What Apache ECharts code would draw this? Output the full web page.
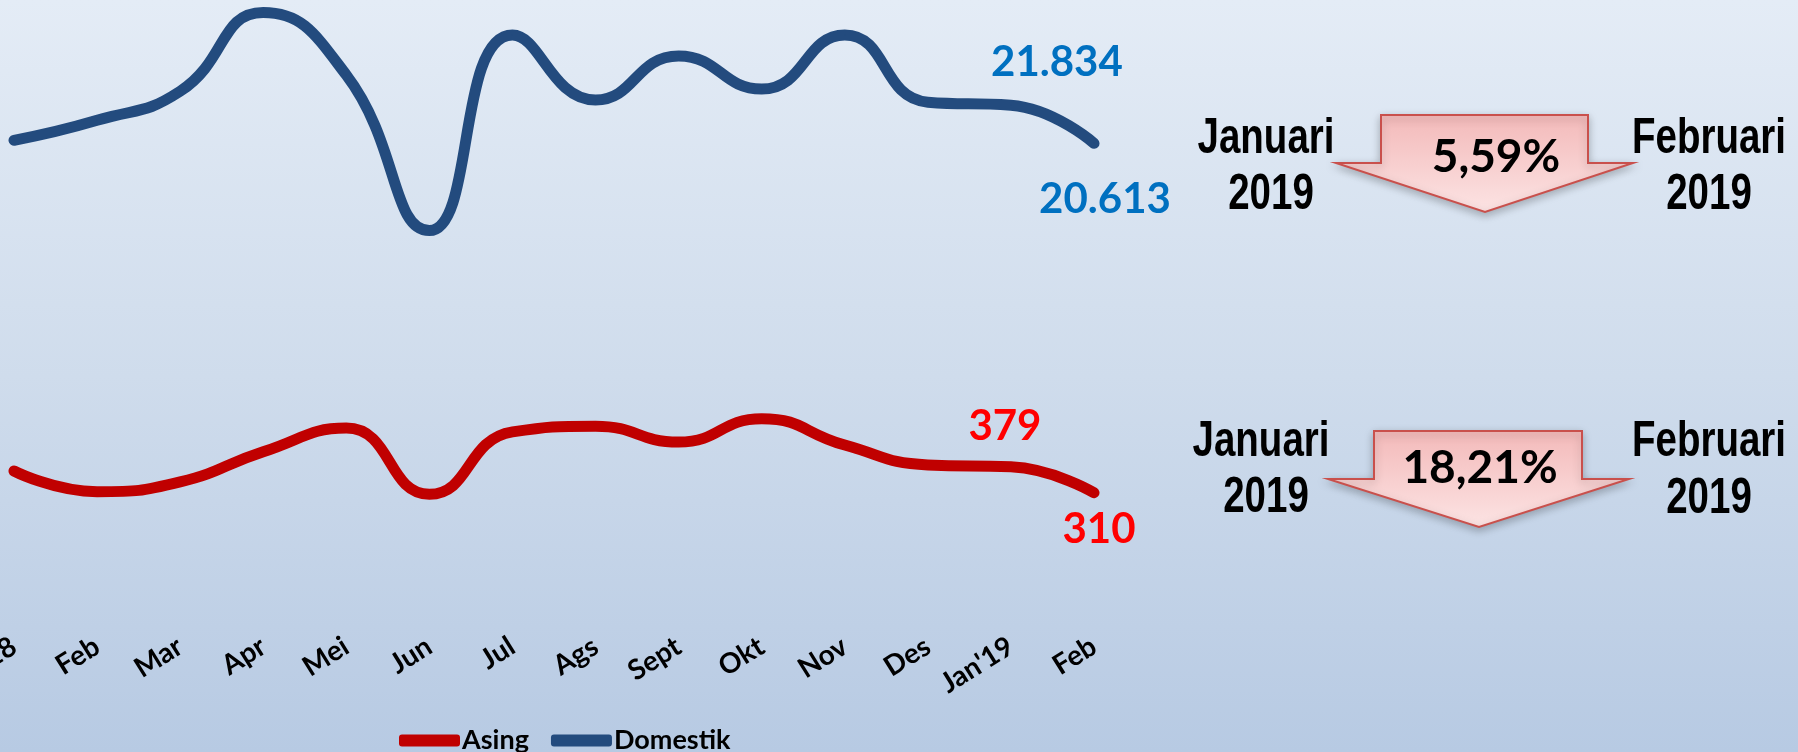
<!DOCTYPE html>
<html>
<head>
<meta charset="utf-8">
<script src="https://cdn.jsdelivr.net/npm/echarts@6/dist/echarts.min.js"></script>
<style>
  html, body { margin: 0; padding: 0; }
  #main {
    width: 1798px;
    height: 752px;
    background: linear-gradient(to bottom, #e4ecf6 0%, #cfdcec 50%, #b7cae3 100%);
  }
</style>
</head>
<body>
<div id="main"></div>
<script>
// data
const months = ["Jan'18", 'Feb', 'Mar', 'Apr', 'Mei', 'Jun', 'Jul', 'Ags', 'Sept', 'Okt', 'Nov', 'Des', "Jan'19", 'Feb']
const domestik = [20710, 21350, 22280, 24800, 22800, 17820, 24080, 22000, 23410, 22350, 24080, 21930, 21834, 20613]
const asing = [368, 313, 339, 419, 482, 306, 472, 487, 445, 507, 437, 384, 379, 310]
const perubahan = ['5,59%', '18,21%']

function fmt(v) {
  return String(v).replace(/\B(?=(\d{3})+(?!\d))/g, '.')
}

// only the last two points carry a label
function withLabels(arr, color, topOffset, bottomOffset) {
  const n = arr.length
  return arr.map((v, i) => {
    if (i === n - 2) {
      return { value: v, label: { show: true, position: 'top', distance: 0, offset: topOffset, color: color } }
    }
    if (i === n - 1) {
      return { value: v, label: { show: true, position: 'bottom', distance: 0, offset: bottomOffset, color: color } }
    }
    return v
  })
}

const labelFont = {
  fontFamily: 'Lato',
  fontWeight: 'bold',
  fontSize: 42,
  formatter: p => fmt(p.value)
}

const chart = echarts.init(document.getElementById('main'), null, { renderer: 'canvas' })

function arrow(y0, bl, br, sh, wl, wr, tx, ty) {
  return {
    type: 'polygon',
    shape: { points: [[bl, y0], [br, y0], [br, sh], [wr, sh], [tx, ty], [wl, sh], [bl, sh]] },
    style: {
      fill: new echarts.graphic.LinearGradient(0, 0, 0, 1, [
        { offset: 0, color: '#f3b9b9' },
        { offset: 1, color: '#fce4e4' }
      ]),
      stroke: '#c9504c',
      lineWidth: 2,
      shadowBlur: 8,
      shadowOffsetY: 3,
      shadowColor: 'rgba(0,0,0,0.25)'
    }
  }
}

// condensed black captions (Arial Narrow look)
function txt(x, y, s) {
  return {
    type: 'text',
    x: x,
    y: y,
    scaleX: 0.77,
    style: {
      text: s,
      fill: '#000',
      font: 'bold 50px "Liberation Sans", Arial, sans-serif',
      textAlign: 'center',
      textVerticalAlign: 'middle'
    }
  }
}

function pct(x, y, s) {
  return {
    type: 'text',
    x: x,
    y: y,
    style: {
      text: s,
      fill: '#000',
      font: 'bold 46px Lato, sans-serif',
      textAlign: 'center',
      textVerticalAlign: 'middle'
    }
  }
}

chart.setOption({
  animation: false,
  grid: [
    { left: 14, right: 704, top: 0, height: 300, outerBoundsMode: 'none' },
    { left: 14, right: 704, top: 380, height: 250, outerBoundsMode: 'none' }
  ],
  xAxis: [
    { gridIndex: 0, type: 'category', data: months, boundaryGap: false, show: false },
    {
      gridIndex: 1,
      type: 'category',
      data: months,
      boundaryGap: false,
      axisLine: { show: false },
      axisTick: { show: false },
      axisLabel: {
        interval: 0,
        rotate: 32,
        margin: 14,
        color: '#000',
        fontFamily: 'Lato',
        fontWeight: 'bold',
        fontSize: 28
      }
    }
  ],
  yAxis: [
    { gridIndex: 0, type: 'value', min: 15600, max: 25200, show: false },
    { gridIndex: 1, type: 'value', min: -55, max: 610, show: false }
  ],
  legend: {
    left: 394,
    top: 722,
    itemWidth: 61,
    itemHeight: 12,
    itemGap: 22,
    icon: 'roundRect',
    data: ['Asing', 'Domestik'],
    textStyle: { color: '#000', fontFamily: 'Lato', fontWeight: 'bold', fontSize: 27, padding: [0, 0, 0, -3] }
  },
  series: [
    {
      name: 'Domestik',
      type: 'line',
      xAxisIndex: 0,
      yAxisIndex: 0,
      smooth: 0.5,
      clip: false,
      symbol: 'circle',
      symbolSize: 1,
      lineStyle: { color: '#234b7e', width: 11, cap: 'round', join: 'round' },
      itemStyle: { color: '#234b7e' },
      label: labelFont,
      data: withLabels(domestik, '#0070c0', [46, -21], [11, 35])
    },
    {
      name: 'Asing',
      type: 'line',
      xAxisIndex: 1,
      yAxisIndex: 1,
      smooth: 0.5,
      clip: false,
      symbol: 'circle',
      symbolSize: 1,
      lineStyle: { color: '#c00000', width: 11, cap: 'round', join: 'round' },
      itemStyle: { color: '#c00000' },
      label: labelFont,
      data: withLabels(asing, '#ff0000', [-6, -19], [5, 15])
    }
  ],
  graphic: [
    arrow(115, 1381, 1588, 163, 1336, 1633, 1485, 212),
    arrow(431, 1374, 1582, 479, 1328, 1629, 1479, 527),
    pct(1496, 157, perubahan[0]),
    pct(1480, 468, perubahan[1]),
    txt(1266, 139, 'Januari'),
    txt(1271, 195, '2019'),
    txt(1709, 139, 'Februari'),
    txt(1709, 195, '2019'),
    txt(1261, 442, 'Januari'),
    txt(1266, 498, '2019'),
    txt(1709, 442, 'Februari'),
    txt(1709, 499, '2019')
  ]
})
</script>
</body>
</html>
